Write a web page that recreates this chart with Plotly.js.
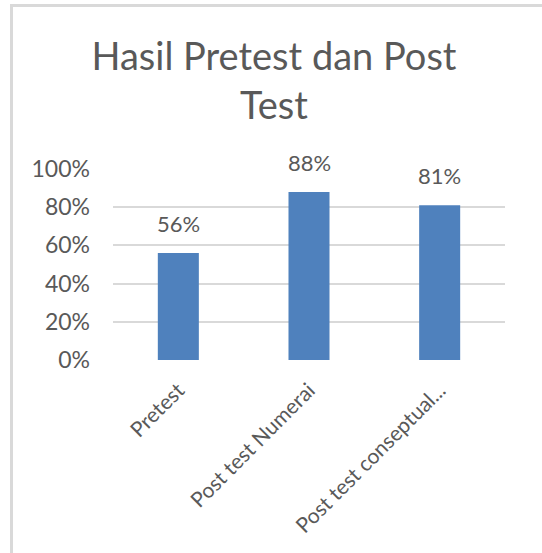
<!DOCTYPE html>
<html>
<head>
<meta charset="utf-8">
<script src="https://cdn.plot.ly/plotly-3.0.1.min.js"></script>
<style>
  html, body { margin: 0; padding: 0; background: #ffffff; overflow: hidden; }
  #frame { position: absolute; left: 10px; top: 4px; width: 600px; height: 600px;
           border-left: 3px solid #d9d9d9; border-top: 3px solid #d9d9d9; }
  #chart { position: absolute; left: 0; top: 0; width: 542px; height: 553px; }
</style>
</head>
<body>
<div id="frame"></div>
<div id="chart"></div>
<script>
const categories = ["Pretest", "Post test Numerai", "Post test conseptual..."];
const values = [0.56, 0.88, 0.81];
const yTickValues = [0, 0.2, 0.4, 0.6, 0.8, 1.0];
const yTickLabels = ["0%", "20%", "40%", "60%", "80%", "100%"];
const chartTitle = "Hasil Pretest dan Post<br>Test";

const textColor = "#595959";
const fontFamily = "Lato, 'Open Sans', sans-serif";

const trace = {
  type: "bar",
  x: categories,
  y: values,
  marker: { color: "#4f81bd" },
  hoverinfo: "skip"
};

const labels = categories.map((c, i) => ({
  x: c,
  y: values[i],
  xref: "x",
  yref: "y",
  text: Math.round(values[i] * 100) + "%",
  showarrow: false,
  yanchor: "bottom",
  yshift: 14,
  font: { family: fontFamily, size: 22, color: textColor }
}));

const layout = {
  width: 542,
  height: 553,
  margin: { l: 113, r: 37, t: 169, b: 193 },
  paper_bgcolor: "rgba(0,0,0,0)",
  plot_bgcolor: "rgba(0,0,0,0)",
  showlegend: false,
  bargap: 0.686,
  title: {
    text: chartTitle,
    font: { family: fontFamily, size: 38, color: textColor },
    xref: "container",
    yref: "container",
    x: 0.5055,
    xanchor: "center",
    y: 1 - 70 / 553,
    yanchor: "top"
  },
  xaxis: {
    type: "category",
    tickangle: -45,
    tickfont: { family: fontFamily, size: 21, color: textColor },
    showgrid: false,
    showline: false,
    zeroline: false,
    ticks: "",
    ticklabelstandoff: 13
  },
  yaxis: {
    range: [0, 1],
    tickvals: yTickValues,
    ticktext: yTickLabels,
    tickfont: { family: fontFamily, size: 23, color: textColor },
    showgrid: true,
    gridcolor: "#d9d9d9",
    gridwidth: 2,
    zeroline: false,
    showline: false,
    ticks: "",
    ticklabelstandoff: 22
  },
  annotations: labels
};

Plotly.newPlot("chart", [trace], layout, { staticPlot: true, displayModeBar: false });
</script>
</body>
</html>
